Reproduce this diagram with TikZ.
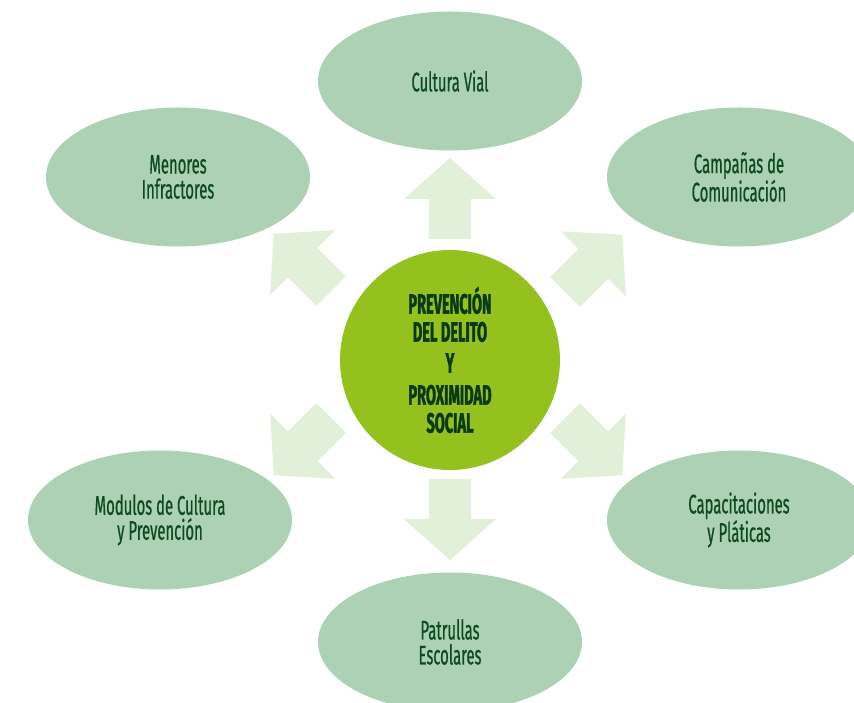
\documentclass[tikz,border=0pt]{standalone}
\usepackage{fontspec}
\newfontfamily\hubfont{Fira Sans}[FakeStretch=0.55, FakeBold=0.6, BoldFeatures={FakeStretch=0.52, FakeBold=1.4}]
\usetikzlibrary{shapes.geometric}
\begin{document}
\begin{tikzpicture}[x=1pt, y=1pt,
    every node/.style={font=\hubfont\fontsize{27}{25}\selectfont, align=center},
    leaf/.style={ellipse, fill=leafFill, text=leafText, minimum width=264pt, minimum height=139pt, inner sep=0pt},
    hub/.style={circle, fill=hubFill, text=hubText, minimum size=220pt, inner sep=0pt,
      font=\hubfont\bfseries\fontsize{28}{28}\selectfont},
    blockarrow/.pic={\fill[arrowFill] (0,-21) -- (40,-21) -- (40,-46) -- (81,0) -- (40,46) -- (40,21) -- (0,21) -- cycle;}]
        \definecolor{leafFill}{RGB}{172,209,181}
        \definecolor{leafText}{RGB}{14,74,32}
        \definecolor{hubFill}{RGB}{149,193,31}
        \definecolor{hubText}{RGB}{9,58,20}
        \definecolor{arrowFill}{RGB}{226,239,217}
        \useasboundingbox (0,0) rectangle (854,702);
        \clip (0,0) rectangle (854,702);
        \pic[rotate=90] at (450,463) {blockarrow};
        \pic[rotate=-90] at (450,223) {blockarrow};
        \pic[rotate=45] at (565,410) {blockarrow};
        \pic[rotate=135] at (331,411) {blockarrow};
        \pic[rotate=225] at (331,284) {blockarrow};
        \pic[rotate=-45] at (565,284) {blockarrow};
        \node[hub] (delito) at (450,342) {PREVENCIÓN\\DEL DELITO\\[3pt]Y\\[4pt]PROXIMIDAD\\SOCIAL};
        \node[leaf] (vial) at (450,621) {Cultura Vial};
        \node[leaf] (menores) at (178,525) {Menores\\Infractores};
        \node[leaf] (campanas) at (739,525) {Campañas de\\Comunicación};
        \node[leaf] (modulos) at (160,182) {Modulos de Cultura\\y Prevención};
        \node[leaf] (platicas) at (739,182) {Capacitaciones\\y Pláticas};
        \node[leaf] (patrullas) at (450,60) {Patrullas\\Escolares};
      \end{tikzpicture}
\end{document}
